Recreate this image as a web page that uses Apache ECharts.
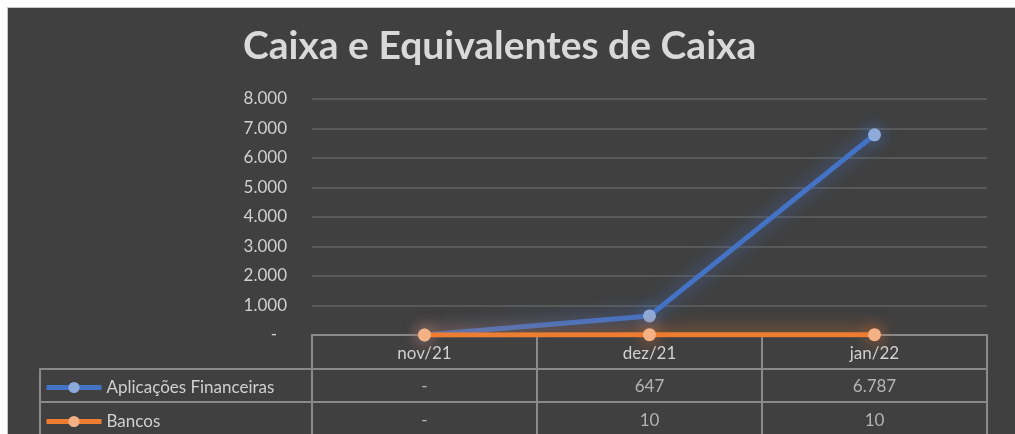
<!DOCTYPE html>
<html>
<head>
<meta charset="utf-8">
<script src="https://cdn.jsdelivr.net/npm/echarts@6/dist/echarts.min.js"></script>
<style>
  html, body { margin: 0; padding: 0; background: #ffffff; }
  #chart {
    position: absolute;
    left: 7px;
    top: 7px;
    width: 1008px;
    height: 427px;
    border-left: 1px solid #c6c6c6;
    border-top: 1px solid #c6c6c6;
  }
</style>
</head>
<body>
<div id="chart"></div>
<script>
// dados
const months = ['nov/21', 'dez/21', 'jan/22']
const seriesNames = ['Aplicações Financeiras', 'Bancos']
const aplicacoes = [0, 647, 6787]
const bancos = [0, 10, 10]
const yTicks = [0, 8000, 1000] // min, max, intervalo

const seriesValues = [aplicacoes, bancos]
const lineColors = ['#4472c4', '#ed7d31']
const dotColors = ['#8eaadb', '#f4b183']
const glowColors = ['rgba(68,114,196,0.85)', 'rgba(237,125,49,0.85)']

const textColor = '#d0d0d0'
const tableLine = '#8a8a8a'
const font = 'Lato, "Open Sans", sans-serif'

// formato pt-BR: 6787 -> 6.787, 0 -> '-'
const fmt = (v) => {
  if (!v) return '-'
  return String(v).replace(/\B(?=(\d{3})+(?!\d))/g, '.')
}

// células da tabela (linha = série, coluna = mês)
const cells = []
seriesNames.forEach((name, s) => {
  months.forEach((m, i) => {
    cells.push([m, name, seriesValues[s][i]])
  })
})

const chart = echarts.init(document.getElementById('chart'))

const lineSeries = seriesNames.map((name, s) => ({
  name: name,
  type: 'line',
  xAxisIndex: 0,
  yAxisIndex: 0,
  data: seriesValues[s],
  symbol: 'circle',
  symbolSize: 13,
  z: 3 + s,
  lineStyle: {
    color: lineColors[s],
    width: 5,
    shadowBlur: 18,
    shadowColor: glowColors[s]
  },
  itemStyle: {
    color: dotColors[s],
    borderWidth: 0,
    shadowBlur: 16,
    shadowColor: glowColors[s]
  }
}))

// uma legenda por linha da tabela
const legends = seriesNames.map((name, s) => ({
  left: 31,
  top: 366 + s * 34,
  itemWidth: 55,
  itemHeight: 14,
  data: [name],
  lineStyle: { width: 5, shadowBlur: 0 },
  itemStyle: { shadowBlur: 0 },
  textStyle: { color: textColor, fontSize: 17, fontFamily: font }
}))

const option = {
  backgroundColor: '#404040',
  animation: false,
  title: {
    text: 'Caixa e Equivalentes de Caixa',
    left: 230,
    top: 14,
    textStyle: {
      color: '#d9d9d9',
      fontSize: 39,
      fontWeight: 'bold',
      fontFamily: font
    }
  },
  legend: legends,
  grid: [
    // gráfico
    { left: 304, right: 29, top: 91, height: 236 },
    // tabela de valores
    { left: 304, right: 29, top: 327, height: 102 },
    // coluna da legenda
    { left: 32, width: 272, top: 361, height: 68 }
  ],
  xAxis: [
    {
      gridIndex: 0,
      type: 'category',
      data: months,
      axisLine: { show: false },
      axisTick: { show: false },
      axisLabel: { color: textColor, fontSize: 17, fontFamily: font, margin: 10 }
    },
    {
      gridIndex: 1,
      type: 'category',
      data: months,
      position: 'top',
      axisLine: { show: true, lineStyle: { color: tableLine, width: 2 } },
      axisTick: { show: false },
      axisLabel: { show: false },
      splitLine: { show: true, lineStyle: { color: tableLine, width: 2 } }
    },
    {
      gridIndex: 2,
      type: 'category',
      data: [''],
      axisLine: { show: false },
      axisTick: { show: false },
      axisLabel: { show: false },
      splitLine: { show: true, lineStyle: { color: tableLine, width: 2 } }
    }
  ],
  yAxis: [
    {
      gridIndex: 0,
      type: 'value',
      min: yTicks[0],
      max: yTicks[1],
      interval: yTicks[2],
      axisLine: { show: false },
      axisTick: { show: false },
      axisLabel: {
        color: textColor,
        fontSize: 17,
        fontFamily: font,
        margin: 25,
        // o traço do zero fica recuado como no formato contábil
        formatter: (v) => (v ? fmt(v) : '-\u2007')
      },
      splitLine: { lineStyle: { color: '#595959', width: 2 } }
    },
    {
      gridIndex: 1,
      type: 'category',
      inverse: true,
      data: [''].concat(seriesNames),
      axisLine: { show: true, lineStyle: { color: tableLine, width: 2 } },
      axisTick: { show: false },
      axisLabel: { show: false },
      splitLine: { show: true, lineStyle: { color: tableLine, width: 2 } }
    },
    {
      gridIndex: 2,
      type: 'category',
      inverse: true,
      data: seriesNames,
      axisLine: { show: true, lineStyle: { color: tableLine, width: 2 } },
      axisTick: { show: false },
      axisLabel: { show: false },
      splitLine: { show: true, lineStyle: { color: tableLine, width: 2 } }
    }
  ],
  series: lineSeries.concat([
    {
      name: 'tabela',
      type: 'scatter',
      xAxisIndex: 1,
      yAxisIndex: 1,
      symbolSize: 1,
      itemStyle: { color: 'rgba(0,0,0,0)' },
      silent: true,
      data: cells,
      label: {
        show: true,
        position: 'inside',
        offset: [0, 2],
        color: textColor,
        fontSize: 17,
        fontFamily: font,
        formatter: (p) => fmt(p.value[2])
      }
    }
  ])
}

chart.setOption(option)
</script>
</body>
</html>
